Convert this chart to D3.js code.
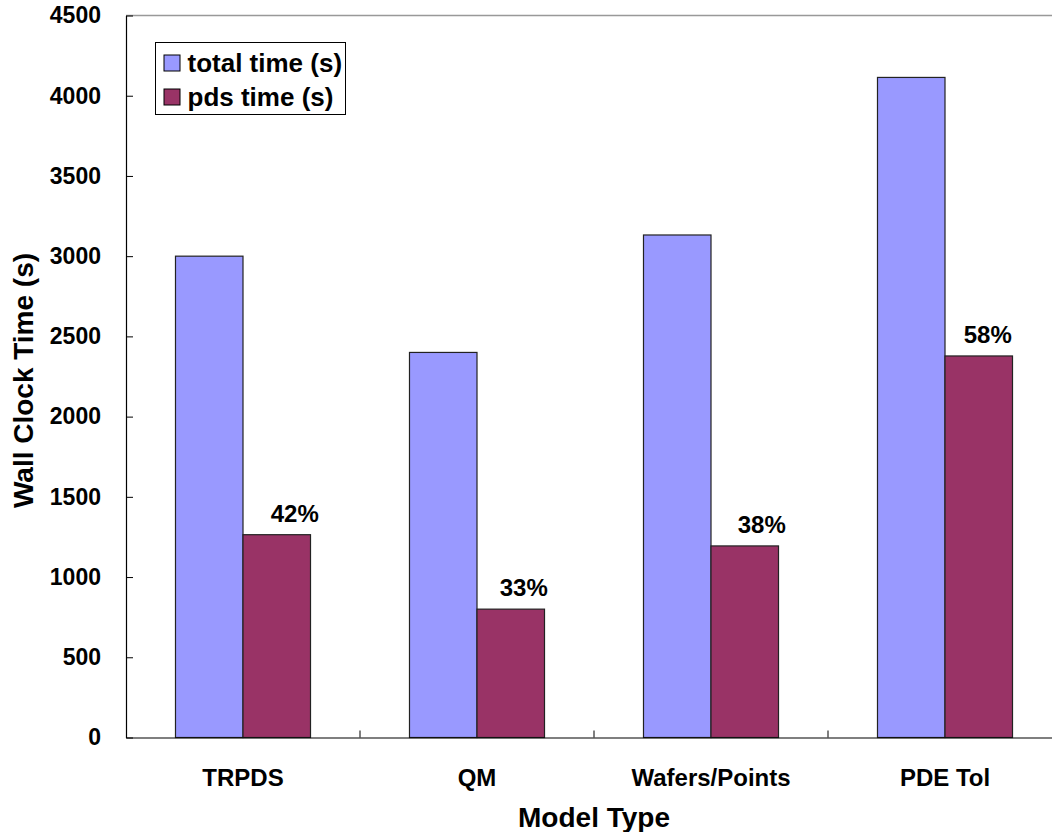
<!DOCTYPE html>
<html>
<head>
<meta charset="utf-8">
<script src="https://cdn.jsdelivr.net/npm/d3@7"></script>
<style>
  html, body { margin: 0; padding: 0; background: #fff; }
  svg { display: block; font-family: "Liberation Sans", Arial, sans-serif; font-weight: bold; }
</style>
</head>
<body>
<svg id="chart" width="1052" height="832"></svg>
<script>
// Wall clock time per model type
const categories = ["TRPDS", "QM", "Wafers/Points", "PDE Tol"];
const totalTime = [3000, 2400, 3132, 4114];
const pdsTime = [1264, 800, 1194, 2378];
const pctLabels = ["42%", "33%", "38%", "58%"];
const yTicks = [0, 500, 1000, 1500, 2000, 2500, 3000, 3500, 4000, 4500];
const seriesNames = ["total time (s)", "pds time (s)"];
const seriesColors = ["#9999FF", "#993366"];

// horizontal nudge of each percentage label from its bar centre (px)
const labelNudge = [18, 13, 17, 9];

const svg = d3.select("#chart");
const plotLeft = 126, plotTop = 15.5, plotBottom = 737.5, plotRight = 1062;
const FONT = "Liberation Sans, Arial, sans-serif";

const y = d3.scaleLinear().domain([0, 4500]).range([plotBottom, plotTop]);
const x = d3.scaleBand().domain(categories).range([plotLeft, plotRight]).padding(0);
const groupW = x.bandwidth() * 0.577;
const barW = groupW / 2;

// top frame line
svg.append("line")
  .attr("x1", plotLeft).attr("x2", 1052).attr("y1", plotTop).attr("y2", plotTop)
  .attr("stroke", "#999").attr("stroke-width", 1.5);

// y axis
const yAxis = d3.axisLeft(y).tickValues(yTicks).tickFormat(d3.format("d"))
  .tickSizeInner(-7).tickSizeOuter(0).tickPadding(25);
const gy = svg.append("g").attr("transform", `translate(${plotLeft},0)`).call(yAxis);
gy.select(".domain").attr("stroke", "#000").attr("stroke-width", 1.2);
gy.selectAll(".tick line").attr("stroke", "#000");
gy.selectAll(".tick text")
  .attr("font-size", 23).attr("font-weight", "bold")
  .attr("font-family", FONT).attr("fill", "#000");

// bars
const groups = svg.append("g").selectAll("g").data(categories).join("g")
  .attr("transform", d => `translate(${x(d) + x.bandwidth() / 2 - barW},0)`);

groups.append("rect")
  .attr("x", 0).attr("width", barW)
  .attr("y", (d, i) => y(totalTime[i]))
  .attr("height", (d, i) => plotBottom - y(totalTime[i]))
  .attr("fill", seriesColors[0]).attr("stroke", "#222").attr("stroke-width", 1.2);

groups.append("rect")
  .attr("x", barW).attr("width", barW)
  .attr("y", (d, i) => y(pdsTime[i]))
  .attr("height", (d, i) => plotBottom - y(pdsTime[i]))
  .attr("fill", seriesColors[1]).attr("stroke", "#222").attr("stroke-width", 1.2);

groups.append("text")
  .attr("x", (d, i) => barW * 1.5 + labelNudge[i])
  .attr("y", (d, i) => y(pdsTime[i]) - 13)
  .attr("text-anchor", "middle")
  .attr("font-size", 24)
  .text((d, i) => pctLabels[i]);

// x axis
const xAxis = d3.axisBottom(x).tickSize(0).tickPadding(0);
const gx = svg.append("g").attr("transform", `translate(0,${plotBottom})`).call(xAxis);
gx.select(".domain").attr("stroke", "#000").attr("stroke-width", 1.2);
gx.selectAll(".tick text")
  .attr("y", 48.5).attr("dy", null)
  .attr("font-size", 24).attr("font-weight", "bold")
  .attr("font-family", FONT).attr("fill", "#000");
// category separators
svg.append("g").selectAll("line").data(categories.slice(1)).join("line")
  .attr("x1", d => x(d)).attr("x2", d => x(d))
  .attr("y1", plotBottom).attr("y2", plotBottom - 7)
  .attr("stroke", "#000");

// axis titles
svg.append("text")
  .attr("transform", `translate(33,${(plotTop + plotBottom) / 2 + 4}) rotate(-90)`)
  .attr("text-anchor", "middle").attr("font-size", 28)
  .text("Wall Clock Time (s)");
svg.append("text")
  .attr("x", 594).attr("y", 827)
  .attr("text-anchor", "middle").attr("font-size", 28)
  .text("Model Type");

// legend
const lg = svg.append("g").attr("transform", "translate(155.5,42.5)");
lg.append("rect").attr("width", 190).attr("height", 72)
  .attr("fill", "#fff").attr("stroke", "#000").attr("stroke-width", 1);
seriesNames.forEach((name, i) => {
  lg.append("rect")
    .attr("x", 8.5).attr("y", 12.5 + i * 34).attr("width", 16).attr("height", 16)
    .attr("fill", seriesColors[i]).attr("stroke", "#000").attr("stroke-width", 1);
  lg.append("text")
    .attr("x", 32).attr("y", 29.5 + i * 34)
    .attr("font-size", 26)
    .text(name);
});
</script>
</body>
</html>
